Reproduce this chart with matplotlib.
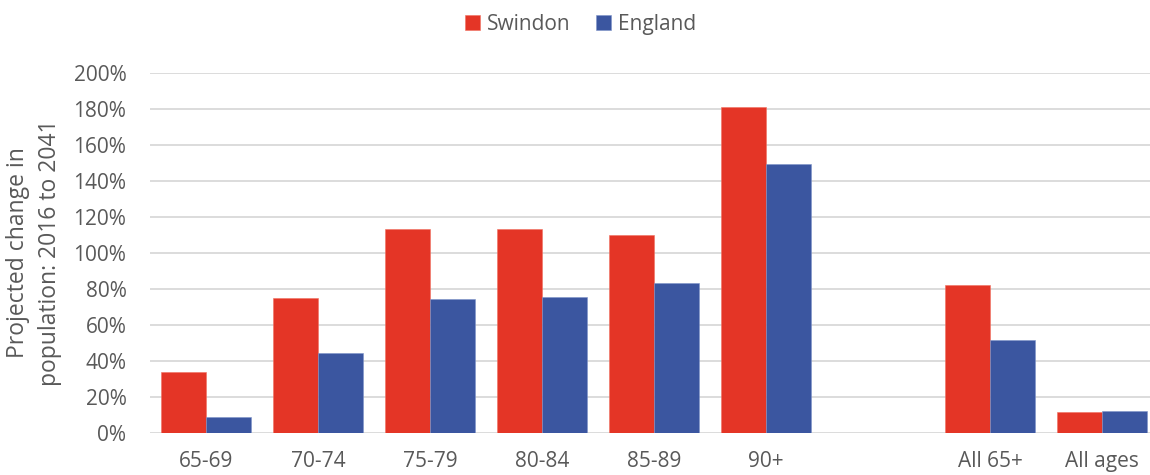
import matplotlib.pyplot as plt
import numpy as np
from matplotlib.ticker import PercentFormatter

plt.rcParams['font.family'] = ['Open Sans', 'DejaVu Sans']

categories = ['65-69', '70-74', '75-79', '80-84', '85-89', '90+', '', 'All 65+', 'All ages']
swindon = [33.8, 75.1, 113.2, 113.2, 110.0, 181.1, np.nan, 82.0, 11.5]
england = [8.9, 44.2, 74.6, 75.5, 83.1, 149.7, np.nan, 51.6, 11.9]

red = '#e43526'
blue = '#3b56a0'
grey_txt = '#595959'

fig = plt.figure(figsize=(11.5, 4.75), dpi=100)
ax = fig.add_axes([150 / 1150, 42.3 / 475, 1008 / 1150, 359.4 / 475])

x = np.arange(len(categories))
w = 0.4
ax.bar(x - w / 2, swindon, w, color=red, label='Swindon', zorder=3,
       edgecolor='#f07060', linewidth=0.4)
ax.bar(x + w / 2, england, w, color=blue, label='England', zorder=3,
       edgecolor='#7f93c8', linewidth=0.4)

ax.set_xlim(-0.5, len(categories) - 0.5)
ax.set_ylim(0, 200)
ax.set_yticks(np.arange(0, 201, 20))
ax.yaxis.set_major_formatter(PercentFormatter(decimals=0))
ax.set_xticks(x)
ax.set_xticklabels(categories)

ax.grid(axis='y', color='#d9d9d9', linewidth=1.3, zorder=0)
for s in ['top', 'right', 'left', 'bottom']:
    ax.spines[s].set_visible(False)
ax.tick_params(axis='both', length=0, labelsize=15, colors=grey_txt)
ax.tick_params(axis='y', pad=17)
ax.tick_params(axis='x', pad=13)

ax.set_ylabel('Projected change in\npopulation: 2016 to 2041', fontsize=16.5,
              color=grey_txt, labelpad=8, linespacing=1.45)

fig.legend(loc='upper center', bbox_to_anchor=(0.505, 1.01), ncol=2, frameon=False,
           fontsize=15, handlelength=0.7, handleheight=0.7, columnspacing=1.2,
           handletextpad=0.35, labelcolor=grey_txt)

fig.savefig('out.png', dpi=100)
